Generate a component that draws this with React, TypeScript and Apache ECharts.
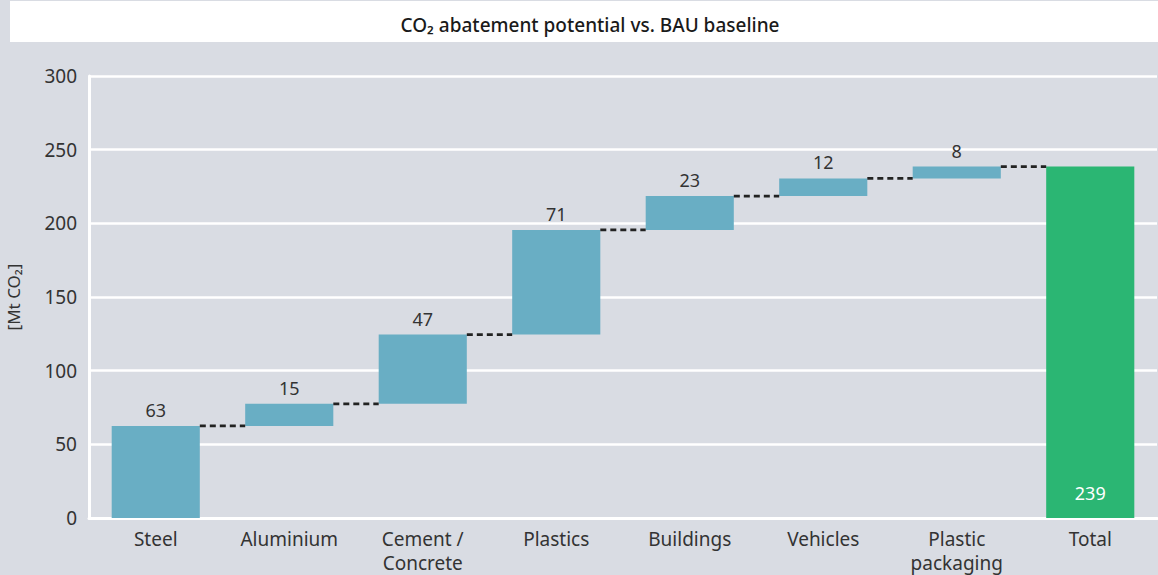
import React, { useEffect, useRef } from "react";
import * as echarts from "echarts";

const categories = ["Steel", "Aluminium", "Cement /\nConcrete", "Plastics", "Buildings", "Vehicles", "Plastic\npackaging", "Total"];
const increments = [62.5, 15, 47, 71, 23, 12, 8];
const yTicks = { min: 0, max: 300, interval: 50 };
const titleText = "CO\u2082 abatement potential vs. BAU baseline";
const yName = "[Mt CO\u2082]";

const FONT = "Noto Sans";

export default function App() {
  const ref = useRef<HTMLDivElement>(null);
  useEffect(() => {
    if (!ref.current) return;
    const chart = echarts.init(ref.current, null, { renderer: "svg" });
    const cumulative: number[] = [];
    let run = 0;
    increments.forEach((v) => { run += v; cumulative.push(run); });
    const total = run;
    const bases = increments.map((v, i) => (i === 0 ? 0 : cumulative[i - 1]));
    bases.push(0);
    const visible: any[] = increments.map((v) => ({ value: v }));
    visible.push({
      value: total,
      itemStyle: { color: "#2bb673" },
      label: { position: "insideBottom", color: "#ffffff", distance: 16 },
    });
    const connectors = cumulative.map((c, i) => [i, c]);

    chart.setOption({
      animation: false,
      backgroundColor: "#d9dce3",
      textStyle: { fontFamily: FONT },
      graphic: [
        { type: "rect", shape: { x: 10, y: 1, width: 1148, height: 41 }, style: { fill: "#ffffff" }, z: -1 },
      ],
      title: {
        text: titleText,
        left: 585,
        top: 10,
        textAlign: "center",
        textStyle: { fontFamily: FONT, fontSize: 19, fontWeight: 500, color: "#1a1a1a" },
      },
      grid: { left: 89, right: 1, top: 76, bottom: 57, containLabel: false, outerBoundsMode: "none" },
      xAxis: {
        type: "category",
        data: categories,
        axisLine: { show: true, lineStyle: { color: "#ffffff", width: 3 } },
        axisTick: { show: false },
        axisLabel: { color: "#333333", fontSize: 19, margin: 9, lineHeight: 24, fontFamily: FONT },
      },
      yAxis: {
        type: "value",
        min: yTicks.min,
        max: yTicks.max,
        interval: yTicks.interval,
        name: yName,
        nameLocation: "middle",
        nameRotate: 90,
        nameGap: 67,
        nameTextStyle: { color: "#333333", fontSize: 17, fontFamily: FONT },
        axisLine: { show: true, lineStyle: { color: "#ffffff", width: 3 } },
        axisTick: { show: false },
        splitLine: { show: true, lineStyle: { color: "#ffffff", width: 2.5 } },
        axisLabel: { color: "#333333", fontSize: 19, margin: 12, fontFamily: FONT },
      },
      series: [
        {
          type: "bar",
          stack: "w",
          data: bases,
          barWidth: "66%",
          itemStyle: { color: "transparent" },
          emphasis: { disabled: true },
          silent: true,
        },
        {
          type: "bar",
          stack: "w",
          data: visible,
          barWidth: "66%",
          itemStyle: { color: "#69aec4" },
          label: {
            show: true,
            position: "top",
            distance: 7,
            color: "#333333",
            fontSize: 18,
            fontFamily: FONT,
            formatter: (p: any) => String(Math.round(p.value)),
          },
        },
        {
          type: "custom",
          data: connectors,
          encode: { x: 0, y: 1 },
          z: 5,
          renderItem: (params: any, api: any) => {
            const idx = api.value(0);
            const v = api.value(1);
            const p = api.coord([idx, v]);
            const band = api.size([1, 0])[0];
            const half = band * 0.33;
            return {
              type: "line",
              shape: { x1: p[0] + half, y1: p[1], x2: p[0] + band - half, y2: p[1] },
              style: { stroke: "#222222", lineWidth: 2.8, lineDash: [6, 4] },
            };
          },
        },
      ],
    });
    return () => chart.dispose();
  }, []);
  return <div ref={ref} style={{ position: "fixed", left: 0, top: 0, width: 1158, height: 575 }} />;
}
